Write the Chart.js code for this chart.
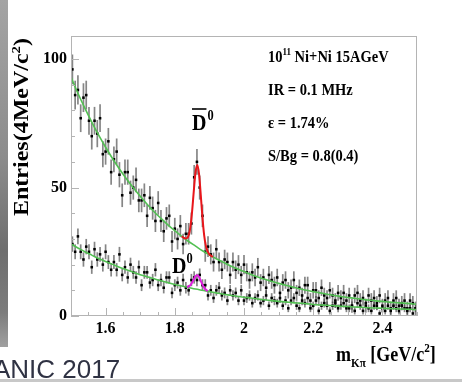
<!DOCTYPE html>
<html>
<head>
<meta charset="utf-8">
<script src="https://cdn.jsdelivr.net/npm/chart.js@4.4.0/dist/chart.umd.min.js"></script>
<style>
  html, body { margin: 0; padding: 0; background: #fff; }
  #wrap { position: relative; width: 462px; height: 382px; overflow: hidden; background: #fff; }
  canvas { position: absolute; left: 0; top: 0; }
  #edge { position: absolute; left: 0; top: 0; width: 8px; height: 347px;
    background: linear-gradient(#a4a4a4, #8c8c8c 45%, #6e6e6e 72%, #7c7c7c 90%, #a0a0a0); }
  #footer { position: absolute; left: -7px; top: 355px; font: 26px "Liberation Sans", Arial, sans-serif;
    line-height: 28px; color: #2f3243; white-space: nowrap; }
  #rule { position: absolute; left: 0; top: 379px; width: 462px; height: 3px; background: #c8c8c8; }
</style>
</head>
<body>
<div id="wrap">
  <canvas id="massChart" width="462" height="382"></canvas>
  <div id="edge"></div>
  <div id="footer">ANIC 2017</div>
  <div id="rule"></div>
</div>
<script>
// histogram bins, 1.5 - 2.5 GeV/c^2
const binCenters = Array.from({ length: 125 }, (_, i) => +(1.504 + 0.008 * i).toFixed(3));

// anti-D0 candidates (upper histogram)
const antiD0Counts = [
  96, 86, 88, 77, 85, 86, 76, 70, 76, 71,
  77, 63, 64, 68, 56, 61, 64, 55, 47, 56,
  56, 48, 50, 53, 45, 45, 47, 39, 46, 42,
  37, 44, 37, 33, 38, 39, 29, 34, 30, 35,
  28, 32, 32, 36, 54, 60, 50, 39, 25, 27,
  24, 21, 26, 21, 18, 22, 21, 16, 21, 18,
  20, 16, 20, 17, 14, 17, 15, 19, 13, 15,
  11, 16, 14, 12, 15, 9, 13, 14, 10, 11,
  14, 9, 11, 8, 12, 12, 6, 10, 10, 7,
  11, 8, 7, 10, 8, 6, 9, 7, 9, 6,
  8, 4, 8, 9, 6, 7, 4, 8, 6, 7,
  5, 8, 4, 6, 7, 3, 6, 7, 4, 5,
  6, 3, 6, 5, 3
];
const antiD0Errors = [
  5.8, 5.6, 5.7, 5.4, 5.6, 5.6, 5.4, 5.2, 5.4, 5.3,
  5.4, 5.1, 5.1, 5.2, 4.9, 5.0, 5.1, 4.9, 4.6, 4.9,
  4.9, 4.7, 4.7, 4.8, 4.6, 4.6, 4.6, 4.4, 4.6, 4.5,
  4.3, 4.6, 4.3, 4.2, 4.4, 4.4, 4.1, 4.2, 4.1, 4.3,
  4.0, 4.2, 4.2, 4.3, 4.8, 5.0, 4.7, 4.4, 3.9, 4.0,
  3.9, 3.7, 3.9, 3.7, 3.6, 3.8, 3.7, 3.5, 3.7, 3.6,
  3.7, 3.5, 3.7, 3.5, 3.4, 3.5, 3.4, 3.6, 3.3, 3.4,
  3.2, 3.5, 3.4, 3.3, 3.4, 3.1, 3.3, 3.4, 3.2, 3.2,
  3.4, 3.1, 3.2, 3.0, 3.3, 3.3, 2.9, 3.2, 3.2, 3.0,
  3.2, 3.0, 3.0, 3.2, 3.0, 2.9, 3.1, 3.0, 3.1, 2.9,
  3.0, 2.7, 3.0, 3.1, 2.9, 3.0, 2.7, 3.0, 2.9, 3.0,
  2.8, 3.0, 2.7, 2.9, 3.0, 2.6, 2.9, 3.0, 2.7, 2.8,
  2.9, 2.6, 2.9, 2.8, 2.6
];

// D0 candidates (lower histogram)
const d0Counts = [
  28, 25, 31, 25, 22, 27, 25, 19, 26, 22,
  24, 20, 25, 21, 18, 21, 18, 24, 16, 19,
  15, 20, 17, 15, 19, 12, 17, 17, 13, 14,
  18, 12, 14, 11, 15, 15, 9, 12, 13, 10,
  14, 11, 10, 14, 15, 14, 16, 12, 12, 8,
  10, 7, 10, 11, 8, 9, 6, 10, 8, 9,
  6, 10, 6, 7, 8, 5, 7, 8, 5, 6,
  8, 4, 7, 6, 5, 7, 4, 6, 3, 6,
  7, 4, 3, 6, 5, 7, 3, 4, 6, 2,
  4, 5, 4, 2, 4, 5, 3, 4, 5, 3,
  3, 4, 2, 5, 4, 2, 5, 3, 2, 4,
  4, 1, 3, 2, 4, 2, 4, 3, 2, 4,
  3, 2, 3, 1, 3
];
const d0Errors = [
  3.0, 2.9, 3.1, 2.9, 2.8, 3.0, 2.9, 2.6, 2.9, 2.8,
  2.9, 2.7, 2.9, 2.7, 2.6, 2.7, 2.6, 2.9, 2.5, 2.6,
  2.4, 2.7, 2.5, 2.4, 2.6, 2.3, 2.5, 2.5, 2.3, 2.4,
  2.6, 2.3, 2.4, 2.2, 2.4, 2.4, 2.1, 2.3, 2.3, 2.1,
  2.4, 2.2, 2.1, 2.4, 2.4, 2.4, 2.5, 2.3, 2.3, 2.0,
  2.1, 1.9, 2.1, 2.2, 2.0, 2.1, 1.8, 2.1, 2.0, 2.1,
  1.8, 2.1, 1.8, 1.9, 2.0, 1.7, 1.9, 2.0, 1.7, 1.8,
  2.0, 1.6, 1.9, 1.8, 1.7, 1.9, 1.6, 1.8, 1.5, 1.8,
  1.9, 1.6, 1.5, 1.8, 1.7, 1.9, 1.5, 1.6, 1.8, 1.4,
  1.6, 1.7, 1.6, 1.4, 1.6, 1.7, 1.5, 1.6, 1.7, 1.5,
  1.5, 1.6, 1.4, 1.7, 1.6, 1.4, 1.7, 1.5, 1.4, 1.6,
  1.6, 1.2, 1.5, 1.4, 1.6, 1.4, 1.6, 1.5, 1.4, 1.6,
  1.5, 1.4, 1.5, 1.2, 1.5
];

// background fits (green)
const fitMass = Array.from({ length: 51 }, (_, i) => +(1.5 + 0.02 * i).toFixed(2));
const antiD0Background = [
  93.0, 86.7, 80.9, 75.5, 70.4, 65.7, 61.3, 57.2, 53.4, 49.9,
  46.6, 43.5, 40.6, 38.0, 35.5, 33.2, 31.0, 29.0, 27.2, 25.4,
  23.8, 22.3, 20.9, 19.6, 18.4, 17.3, 16.2, 15.2, 14.3, 13.5,
  12.7, 12.0, 11.3, 10.6, 10.0, 9.5, 9.0, 8.5, 8.0, 7.6,
  7.2, 6.9, 6.5, 6.2, 5.9, 5.7, 5.4, 5.2, 5.0, 4.8, 4.6
];
const d0Background = [
  28.0, 26.5, 25.0, 23.7, 22.4, 21.2, 20.1, 19.0, 18.0, 17.0,
  16.1, 15.3, 14.5, 13.7, 13.0, 12.3, 11.7, 11.1, 10.5, 10.0,
  9.5, 9.0, 8.5, 8.1, 7.7, 7.3, 7.0, 6.6, 6.3, 6.0,
  5.7, 5.5, 5.2, 5.0, 4.8, 4.5, 4.3, 4.2, 4.0, 3.8,
  3.7, 3.5, 3.4, 3.2, 3.1, 3.0, 2.9, 2.8, 2.7, 2.6, 2.5
];

// signal + background fits around the peak
const antiD0PeakMass = Array.from({ length: 19 }, (_, i) => +(1.82 + 0.005 * i).toFixed(3));
const antiD0PeakFit = [31.0, 30.5, 30.2, 30.3, 31.4, 34.6, 40.7, 48.8, 56.1, 58.8,
  55.3, 47.2, 38.2, 31.3, 27.2, 25.2, 24.0, 23.4, 23.0];
const d0PeakMass = Array.from({ length: 13 }, (_, i) => +(1.835 + 0.005 * i).toFixed(3));
const d0PeakFit = [11.4, 11.5, 12.0, 13.0, 14.3, 15.5, 15.9, 15.2, 13.7, 12.2, 11.0, 10.2, 9.7];

const xTickValues = [1.6, 1.8, 2.0, 2.2, 2.4];
const yTickValues = [0, 50, 100];

const SERIF = '"Liberation Serif", "Times New Roman", serif';

function toPoints(xs, ys) {
  return xs.map((x, i) => ({ x: x, y: ys[i] }));
}

// text with super/subscripts, stretched a bit vertically like the original
function richText(ctx, x, y, parts, size, stretch) {
  ctx.save();
  ctx.translate(x, y);
  ctx.scale(1, stretch);
  let cx = 0;
  parts.forEach((p) => {
    const small = p.sup || p.sub;
    ctx.font = `bold ${small ? size * 0.62 : size}px ${SERIF}`;
    const dy = p.sup ? -size * 0.4 : p.sub ? size * 0.28 : 0;
    ctx.fillText(p.t, cx, dy);
    cx += ctx.measureText(p.t).width;
  });
  ctx.restore();
  return cx;
}

function richTextRot(ctx, start, parts) {
  ctx.save();
  ctx.translate(start, 0);
  ctx.scale(1.2, 1);
  let cx = 0;
  parts.forEach((p) => {
    ctx.font = `bold ${p.sup ? 12.4 : 20}px ${SERIF}`;
    ctx.fillText(p.t, cx, p.sup ? -8 : 0);
    cx += ctx.measureText(p.t).width;
  });
  ctx.restore();
}

const errorBarPlugin = {
  id: "errorBars",
  beforeDatasetsDraw(chart) {
    const { ctx, chartArea, scales } = chart;
    ctx.save();
    ctx.beginPath();
    ctx.rect(chartArea.left, chartArea.top, chartArea.width, chartArea.height);
    ctx.clip();
    ctx.strokeStyle = "rgba(60,60,60,0.62)";
    ctx.lineWidth = 1.7;
    [[antiD0Counts, antiD0Errors], [d0Counts, d0Errors]].forEach(([vals, errs]) => {
      vals.forEach((v, i) => {
        const px = scales.x.getPixelForValue(binCenters[i]);
        ctx.beginPath();
        ctx.moveTo(px, scales.y.getPixelForValue(v - errs[i]));
        ctx.lineTo(px, scales.y.getPixelForValue(v + errs[i]));
        ctx.stroke();
      });
    });
    ctx.restore();
  },
};

const framePlugin = {
  id: "frame",
  afterDraw(chart) {
    const { ctx, chartArea: a, scales } = chart;
    ctx.save();
    ctx.strokeStyle = "#b4b4b4";
    ctx.lineWidth = 1;
    ctx.strokeRect(Math.round(a.left) + 0.5, Math.round(a.top) + 0.5,
      Math.round(a.width) - 1, Math.round(a.height) - 1);

    // inward ticks
    ctx.beginPath();
    for (let k = 0; k <= 20; k++) {
      const v = 1.5 + 0.05 * k;
      const major = k % 4 === 2;
      const px = Math.round(scales.x.getPixelForValue(v)) + 0.5;
      ctx.moveTo(px, a.bottom);
      ctx.lineTo(px, a.bottom - (major ? 8 : 4));
    }
    for (let v = 0; v <= 100; v += 10) {
      const major = v % 50 === 0;
      const py = Math.round(scales.y.getPixelForValue(v)) + 0.5;
      ctx.moveTo(a.left, py);
      ctx.lineTo(a.left + (major ? 8 : 4), py);
    }
    ctx.stroke();

    ctx.fillStyle = "#000";
    ctx.textBaseline = "alphabetic";

    // info box
    richText(ctx, 268, 62, [{ t: "10" }, { t: "11", sup: true }, { t: " Ni+Ni 15AGeV" }], 14.5, 1.2);
    richText(ctx, 268, 95, [{ t: "IR = 0.1 MHz" }], 14.5, 1.2);
    richText(ctx, 268, 128, [{ t: "\u03b5 = 1.74%" }], 14.5, 1.2);
    richText(ctx, 268, 161, [{ t: "S/Bg = 0.8(0.4)" }], 14.5, 1.2);

    // peak labels
    const w = richText(ctx, 192, 130, [{ t: "D" }], 20, 1.2);
    richText(ctx, 192 + w + 1, 130, [{ t: "0", sup: true }], 20, 1.2);
    ctx.strokeStyle = "#000";
    ctx.lineWidth = 1.6;
    ctx.beginPath();
    ctx.moveTo(192, 109);
    ctx.lineTo(192 + w, 109);
    ctx.stroke();
    richText(ctx, 172, 273, [{ t: "D" }, { t: "0", sup: true }], 20, 1.2);

    // axis titles
    richText(ctx, 336, 361, [{ t: "m" }, { t: "K\u03c0", sub: true }, { t: " [GeV/c" }, { t: "2", sup: true }, { t: "]" }], 18, 1.2);

    ctx.save();
    ctx.translate(28, 127);
    ctx.rotate(-Math.PI / 2);
    const parts = [{ t: "Entries(4MeV/c" }, { t: "2", sup: true }, { t: ")" }];
    let total = 0;
    parts.forEach((p) => {
      ctx.font = `bold ${p.sup ? 12.4 : 20}px ${SERIF}`;
      total += ctx.measureText(p.t).width;
    });
    richTextRot(ctx, -total * 1.2 / 2, parts);
    ctx.restore();

    ctx.restore();
  },
};

const tickFont = { family: SERIF, size: 16, weight: "bold" };

new Chart(document.getElementById("massChart"), {
  type: "scatter",
  data: {
    datasets: [
      {
        label: "anti-D0 signal fit",
        data: toPoints(antiD0PeakMass, antiD0PeakFit),
        showLine: true,
        borderColor: "#e8161b",
        borderWidth: 2,
        pointRadius: 0,
        cubicInterpolationMode: "monotone",
        order: 0,
      },
      {
        label: "D0 signal fit",
        data: toPoints(d0PeakMass, d0PeakFit),
        showLine: true,
        borderColor: "#e01ee0",
        borderWidth: 2,
        pointRadius: 0,
        cubicInterpolationMode: "monotone",
        order: 0,
      },
      {
        label: "anti-D0 background",
        data: toPoints(fitMass, antiD0Background),
        showLine: true,
        borderColor: "#52c052",
        borderWidth: 1.6,
        pointRadius: 0,
        tension: 0.3,
        order: 1,
      },
      {
        label: "D0 background",
        data: toPoints(fitMass, d0Background),
        showLine: true,
        borderColor: "#52c052",
        borderWidth: 1.6,
        pointRadius: 0,
        tension: 0.3,
        order: 1,
      },
      {
        label: "anti-D0",
        data: toPoints(binCenters, antiD0Counts),
        pointStyle: "rect",
        pointRadius: 1.8,
        pointBorderWidth: 0,
        backgroundColor: "#000",
        borderColor: "#000",
        order: 2,
      },
      {
        label: "D0",
        data: toPoints(binCenters, d0Counts),
        pointStyle: "rect",
        pointRadius: 1.8,
        pointBorderWidth: 0,
        backgroundColor: "#000",
        borderColor: "#000",
        order: 2,
      },
    ],
  },
  options: {
    responsive: false,
    animation: false,
    devicePixelRatio: 1,
    layout: { padding: { top: 36, right: 45, left: 0, bottom: 0 } },
    plugins: { legend: { display: false }, tooltip: { enabled: false } },
    scales: {
      x: {
        type: "linear",
        min: 1.5,
        max: 2.5,
        afterBuildTicks: (scale) => { scale.ticks = xTickValues.map((v) => ({ value: v })); },
        afterFit: (scale) => { scale.height = 66; },
        grid: { display: false, drawTicks: false },
        border: { display: false },
        ticks: {
          font: tickFont,
          color: "#000",
          padding: 3,
          maxRotation: 0,
          autoSkip: false,
          callback: (v) => String(Math.round(v * 10) / 10),
        },
      },
      y: {
        min: 0,
        max: 109,
        afterBuildTicks: (scale) => { scale.ticks = yTickValues.map((v) => ({ value: v })); },
        afterFit: (scale) => { scale.width = 71; },
        grid: { display: false, drawTicks: false },
        border: { display: false },
        ticks: { font: tickFont, color: "#000", padding: 4 },
      },
    },
  },
  plugins: [errorBarPlugin, framePlugin],
});
</script>
</body>
</html>
